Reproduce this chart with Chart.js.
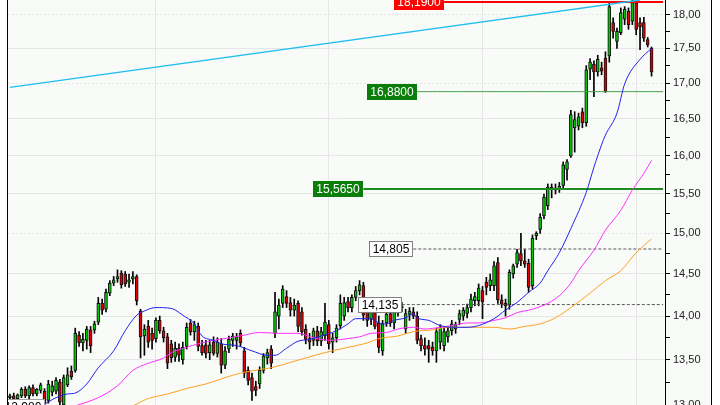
<!DOCTYPE html>
<html><head><meta charset="utf-8">
<script src="https://cdn.jsdelivr.net/npm/chart.js@4/dist/chart.umd.min.js"></script>
<style>html,body{margin:0;padding:0;background:#fff}#wrap{width:720px;height:405px;position:relative}</style>
</head><body><div id="wrap"><canvas id="c" width="720" height="405"></canvas></div>
<script>
// ---- data ----
const slotCount = 171;
const categories = Array.from({length: slotCount}, (_, i) => String(i));
const opens  = [13.08,13.10,13.07,13.10,13.17,13.10,13.19,13.12,13.16,13.15,13.05,13.14,13.15,13.25,13.00,13.22,13.37,13.38,13.78,13.69,13.72,13.84,13.84,13.93,14.15,14.08,14.27,14.39,14.44,14.51,14.50,14.40,14.44,14.47,14.06,13.77,13.88,13.80,13.74,13.95,13.83,13.76,13.68,13.53,13.63,13.50,13.65,13.92,13.82,13.88,13.66,13.67,13.58,13.70,13.57,13.68,13.44,13.62,13.72,13.72,13.80,13.60,13.38,13.30,13.20,13.23,13.38,13.52,13.62,13.80,14.00,14.15,14.23,14.16,14.07,14.15,14.05,13.85,13.74,13.72,13.83,13.71,13.77,13.90,13.70,13.75,13.89,14.00,14.17,14.10,14.22,14.30,14.36,14.06,13.96,14.04,13.92,13.60,13.92,14.03,13.92,14.05,14.10,13.85,14.02,14.05,14.00,13.74,13.66,13.66,13.64,13.60,13.70,13.66,13.76,13.83,13.85,13.96,14.00,14.03,14.10,14.18,14.18,14.30,14.40,14.36,14.36,14.64,14.19,14.15,14.13,14.50,14.62,14.75,14.66,14.63,14.36,14.97,15.05,15.22,15.35,15.59,15.57,15.56,15.61,15.82,16.00,16.38,16.40,16.60,16.45,17.20,17.27,17.16,17.22,17.36,17.39,17.88,17.60,17.73,17.93,18.05,17.90,18.18,17.88,17.88,17.63,17.50];
const highs  = [13.12,13.13,13.12,13.19,13.20,13.21,13.22,13.18,13.24,13.18,13.27,13.26,13.30,13.28,13.33,13.41,13.43,13.86,13.82,13.80,13.88,13.88,13.94,14.22,14.20,14.32,14.42,14.47,14.55,14.54,14.53,14.50,14.53,14.49,14.08,13.90,13.95,13.86,13.98,14.00,13.87,13.80,13.72,13.70,13.68,13.70,13.92,13.96,13.94,13.92,13.72,13.72,13.72,13.76,13.75,13.74,13.65,13.77,13.80,13.80,13.84,13.64,13.42,13.35,13.26,13.42,13.57,13.62,13.66,14.28,14.20,14.36,14.30,14.22,14.20,14.18,14.10,13.90,13.80,13.86,13.88,13.87,14.15,13.95,13.80,13.90,14.25,14.22,14.22,14.25,14.35,14.42,14.40,14.12,14.10,14.08,14.00,13.95,14.05,14.08,14.10,14.15,14.16,14.08,14.10,14.10,14.05,13.78,13.75,13.72,13.70,13.86,13.90,13.88,13.87,13.95,13.93,14.07,14.10,14.14,14.26,14.28,14.38,14.35,14.46,14.50,14.65,14.70,14.25,14.20,14.55,14.62,14.80,15.00,14.80,14.68,14.98,15.02,15.25,15.50,15.63,15.63,15.63,15.65,15.92,15.95,16.62,16.60,16.58,16.65,17.25,17.35,17.32,17.40,17.30,17.45,18.19,17.95,17.80,18.10,18.12,18.10,18.22,18.22,17.95,17.96,17.66,17.52];
const lows   = [13.03,13.05,13.04,13.08,13.08,13.07,13.10,13.10,13.13,12.99,13.02,13.10,13.12,12.99,12.98,13.20,13.28,13.36,13.65,13.60,13.62,13.58,13.80,13.90,14.02,14.05,14.24,14.36,14.40,14.33,14.35,14.34,14.38,14.13,13.52,13.55,13.64,13.62,13.70,13.80,13.70,13.40,13.47,13.48,13.48,13.45,13.62,13.78,13.72,13.60,13.55,13.52,13.50,13.55,13.53,13.35,13.40,13.58,13.65,13.62,13.65,13.30,13.22,13.05,13.10,13.18,13.35,13.45,13.40,13.75,13.85,14.10,14.10,14.00,14.00,13.82,13.78,13.68,13.62,13.66,13.66,13.66,13.72,13.62,13.58,13.70,13.85,13.95,14.05,14.05,14.18,14.25,13.95,13.88,13.90,13.85,13.58,13.55,13.88,13.88,13.85,14.00,14.05,13.80,13.95,13.97,13.68,13.60,13.55,13.47,13.55,13.47,13.62,13.60,13.70,13.78,13.80,13.90,13.95,13.98,14.05,14.12,14.12,13.97,14.25,14.30,14.30,14.15,14.10,14.00,14.08,14.45,14.58,14.60,14.58,14.28,14.32,14.92,15.00,15.18,15.30,15.45,15.50,15.52,15.58,15.68,15.98,16.05,16.35,16.38,16.40,17.05,16.81,17.10,17.12,16.87,17.30,17.65,17.50,17.70,17.85,17.78,17.85,17.70,17.48,17.60,17.52,17.10];
const closes = [13.10,13.07,13.11,13.17,13.10,13.19,13.12,13.17,13.22,13.02,13.23,13.21,13.27,13.03,13.30,13.33,13.31,13.80,13.69,13.73,13.85,13.66,13.91,14.15,14.07,14.28,14.39,14.43,14.47,14.37,14.38,14.43,14.47,14.18,13.76,13.85,13.70,13.72,13.95,13.83,13.75,13.46,13.52,13.63,13.55,13.64,13.87,13.82,13.90,13.65,13.58,13.57,13.67,13.57,13.70,13.44,13.60,13.73,13.77,13.76,13.69,13.35,13.27,13.15,13.16,13.38,13.54,13.58,13.46,14.05,14.13,14.32,14.15,14.07,14.13,13.88,13.82,13.73,13.70,13.83,13.71,13.82,13.93,13.68,13.75,13.86,14.15,14.16,14.10,14.22,14.30,14.37,14.01,13.95,14.05,13.88,13.64,13.91,14.02,13.92,14.05,14.10,14.12,14.03,14.06,14.00,13.72,13.66,13.62,13.62,13.60,13.82,13.87,13.82,13.83,13.91,13.90,14.03,14.07,14.10,14.20,14.23,14.33,14.17,14.34,14.43,14.60,14.19,14.14,14.12,14.52,14.60,14.76,14.66,14.62,14.34,14.94,15.00,15.20,15.46,15.59,15.56,15.55,15.60,15.88,15.92,16.56,16.49,16.53,16.45,17.19,17.30,17.16,17.34,17.17,16.88,18.12,17.75,17.75,18.03,18.08,17.85,18.18,17.78,17.82,17.65,17.55,17.16];

// moving averages: [slot, value]
const maFast = [[8,12.98],[12,13.08],[15,13.12],[17,13.13],[20,13.23],[23,13.41],[27,13.60],[30,13.83],[33,14.01],[35,14.06],[38,14.10],[42,14.09],[45,14.01],[48,13.91],[50,13.77],[53,13.72],[55,13.68],[59,13.66],[63,13.60],[67,13.55],[69,13.55],[72,13.63],[75,13.71],[78,13.73],[81,13.77],[85,13.83],[88,13.91],[90,13.97],[94,13.97],[96,13.92],[98,13.91],[100,13.95],[103,13.98],[105,14.03],[106,13.98],[109,13.95],[112,13.89],[115,13.87],[119,13.87],[122,13.89],[126,13.97],[129,14.07],[132,14.16],[135,14.28],[138,14.39],[140,14.54],[143,14.76],[146,15.06],[150,15.52],[152,15.85],[154,16.15],[155,16.28],[158,16.58],[160,16.99],[164,17.34],[167,17.50]];
const maMid  = [[17,12.99],[23,13.08],[28,13.21],[32,13.38],[36,13.46],[40,13.52],[42,13.58],[46,13.64],[49,13.68],[53,13.72],[56,13.74],[60,13.77],[65,13.81],[70,13.80],[75,13.80],[79,13.75],[83,13.72],[88,13.74],[91,13.76],[94,13.80],[98,13.81],[101,13.85],[105,13.87],[108,13.85],[112,13.87],[115,13.89],[119,13.92],[122,13.92],[126,13.95],[129,13.98],[132,14.04],[136,14.08],[140,14.15],[143,14.24],[146,14.39],[148,14.54],[152,14.79],[155,15.04],[159,15.29],[162,15.55],[165,15.77],[167,15.94]];
const maSlow = [[32,12.99],[36,13.07],[41,13.12],[46,13.18],[51,13.23],[56,13.30],[60,13.35],[65,13.39],[68,13.41],[73,13.47],[77,13.52],[82,13.58],[88,13.64],[93,13.69],[96,13.74],[101,13.77],[105,13.82],[110,13.84],[114,13.87],[117,13.87],[122,13.87],[126,13.87],[130,13.85],[134,13.88],[138,13.91],[142,13.98],[146,14.10],[151,14.27],[155,14.42],[159,14.54],[163,14.76],[167,14.93]];

// trend line end points: [slot, value]
const trendLine = [[0,16.94],[164,18.22]];

// horizontal levels
const levelValues = [18.19, 16.88, 15.565, 14.805, 14.135, 12.98];
const levelLabels = ['18,1900', '16,8800', '15,5650', '14,805', '14,135', '12,980'];
const levelStart  = [113, 106, 92, 105, 102, 9];

// axis ticks
const yTicks = [13.00,13.25,13.50,13.75,14.00,14.25,14.50,14.75,15.00,15.25,15.50,15.75,16.00,16.25,16.50,16.75,17.00,17.25,17.50,17.75,18.00];
const yDotted = [15.00, 17.00, 18.00];
const xGridSlots = [38, 83, 123, 163];

// ---- build library tables ----
function sparse(pairs){ const a = new Array(slotCount).fill(null); pairs.forEach(([i,v]) => a[i] = v); return a; }
function level(k){ const a = new Array(slotCount).fill(null); for (let i = levelStart[k]; i < slotCount; i++) a[i] = levelValues[k]; return a; }
const wickData = opens.map((o, i) => [lows[i], highs[i]]);
const bodyData = opens.map((o, i) => [Math.min(o, closes[i]), Math.max(o, closes[i])]);
const bodyColors = opens.map((o, i) => closes[i] >= o ? '#00c800' : '#dd0000');

const levelStyle = [
  {line:'#ff0000', w:2, dash:[], box:'#ff0000', boxBorder:'#ff0000', text:'#ffffff'},
  {line:'#44a044', w:1, dash:[], box:'#0a7d0a', boxBorder:'#0a7d0a', text:'#ffffff'},
  {line:'#1e8c1e', w:2, dash:[], box:'#0a7d0a', boxBorder:'#0a7d0a', text:'#ffffff'},
  {line:'#555555', w:1, dash:[3,2], box:'#ffffff', boxBorder:'#808080', text:'#000000'},
  {line:'#555555', w:1, dash:[3,2], box:'#ffffff', boxBorder:'#808080', text:'#000000'},
  {line:'#555555', w:1, dash:[3,2], box:'#ffffff', boxBorder:'#a0a0a0', text:'#000000'}
];

const lineBase = {type:'line', pointRadius:0, borderWidth:1, spanGaps:true, fill:false};
const datasets = [
  Object.assign({}, lineBase, {data: sparse(maFast), borderColor:'#2222ee', cubicInterpolationMode:'monotone', order:0}),
  Object.assign({}, lineBase, {data: sparse(maMid),  borderColor:'#ff30ff', cubicInterpolationMode:'monotone', order:0}),
  Object.assign({}, lineBase, {data: sparse(maSlow), borderColor:'#ffa020', cubicInterpolationMode:'monotone', order:0}),
  Object.assign({}, lineBase, {data: sparse(trendLine), borderColor:'#1fbef0', borderWidth:1.3, order:0}),
];
levelValues.forEach((v, k) => {
  datasets.push(Object.assign({}, lineBase, {data: level(k), borderColor: levelStyle[k].line, borderWidth: levelStyle[k].w, borderDash: levelStyle[k].dash, spanGaps:false, order:0}));
});
datasets.push({type:'bar', data: bodyData, backgroundColor: bodyColors, borderColor:'#111', borderWidth:1, barThickness:3, grouped:false, order:1, borderSkipped:false});
datasets.push({type:'bar', data: wickData, backgroundColor:'#000', borderWidth:0, barThickness:1, grouped:false, order:2});

const decor = {
  id:'decor',
  beforeDraw(chart){
    const {ctx, width, height, chartArea:a, scales} = chart;
    ctx.save();
    ctx.fillStyle = '#ffffff'; ctx.fillRect(0,0,width,height);
    ctx.fillStyle = '#f9fbf9'; ctx.fillRect(a.left, 0, scales.y.right - a.left, height);
    ctx.restore();
  },
  afterDatasetsDraw(chart){
    const {ctx, chartArea:a, scales:{x, y}} = chart;
    ctx.save();
    ctx.beginPath(); ctx.rect(a.left, -20, a.right - a.left, a.bottom + 40); ctx.clip();
    ctx.font = '12px "Liberation Sans", Arial, sans-serif';
    ctx.textBaseline = 'middle';
    levelValues.forEach((v, k) => {
      const st = levelStyle[k];
      const yy = Math.round(y.getPixelForValue(v));
      const xr = Math.round(x.getPixelForValue(levelStart[k]));
      const tw = ctx.measureText(levelLabels[k]).width;
      const w = Math.round(tw + 7), h = 16;
      const x0 = xr - w, y0 = yy - 8;
      ctx.fillStyle = st.box; ctx.fillRect(x0, y0, w, h);
      ctx.strokeStyle = st.boxBorder; ctx.lineWidth = 1; ctx.strokeRect(x0 + 0.5, y0 + 0.5, w - 1, h - 1);
      ctx.fillStyle = st.text; ctx.textAlign = 'center';
      ctx.fillText(levelLabels[k], x0 + w / 2, yy + 1);
    });
    ctx.restore();
  },
  afterDraw(chart){
    const {ctx, height, chartArea:a, scales:{y}} = chart;
    ctx.save();
    ctx.strokeStyle = '#000'; ctx.lineWidth = 1;
    ctx.beginPath(); ctx.moveTo(a.left - 0.5, 0); ctx.lineTo(a.left - 0.5, height);
    ctx.moveTo(y.right - 0.5, 0); ctx.lineTo(y.right - 0.5, height); ctx.stroke();
    ctx.restore();
  }
};

new Chart(document.getElementById('c'), {
  data: {labels: categories, datasets},
  options: {
    responsive:false, animation:false, events:[],
    layout:{padding:{left:8, right:8, top:0, bottom:0}},
    plugins:{legend:{display:false}, tooltip:{enabled:false}},
    scales:{
      x:{type:'category', offset:true, display:true,
         ticks:{display:false}, border:{display:false},
         grid:{offset:false, drawTicks:false, color: c => xGridSlots.includes(c.index) ? '#e6e6e6' : 'rgba(0,0,0,0)'}},
      y:{type:'logarithmic', position:'right', min:13.025, max:18.22,
         afterBuildTicks: s => { s.ticks = yTicks.map(v => ({value:v})); },
         afterFit: s => { s.width = 47; s.paddingTop = 0; s.paddingBottom = 0; },
         ticks:{autoSkip:false, padding:3, color:'#222', font:{family:'"Liberation Sans", Arial, sans-serif', size:11},
                callback: v => (Math.abs(v*2 - Math.round(v*2)) < 1e-6) ? v.toFixed(2).replace('.', ',') : ''},
         grid:{tickLength:5, tickColor:'#000', lineWidth:1,
               color: c => (c.tick && Math.abs(c.tick.value*2 - Math.round(c.tick.value*2)) < 1e-6) ? '#e6e6e6' : 'rgba(0,0,0,0)'},
         border:{display:true, color:'#000', width:1,
                 dash: c => (c.tick && yDotted.includes(c.tick.value)) ? [2,2] : []}}
    }
  },
  plugins:[decor]
});
</script></body></html>
